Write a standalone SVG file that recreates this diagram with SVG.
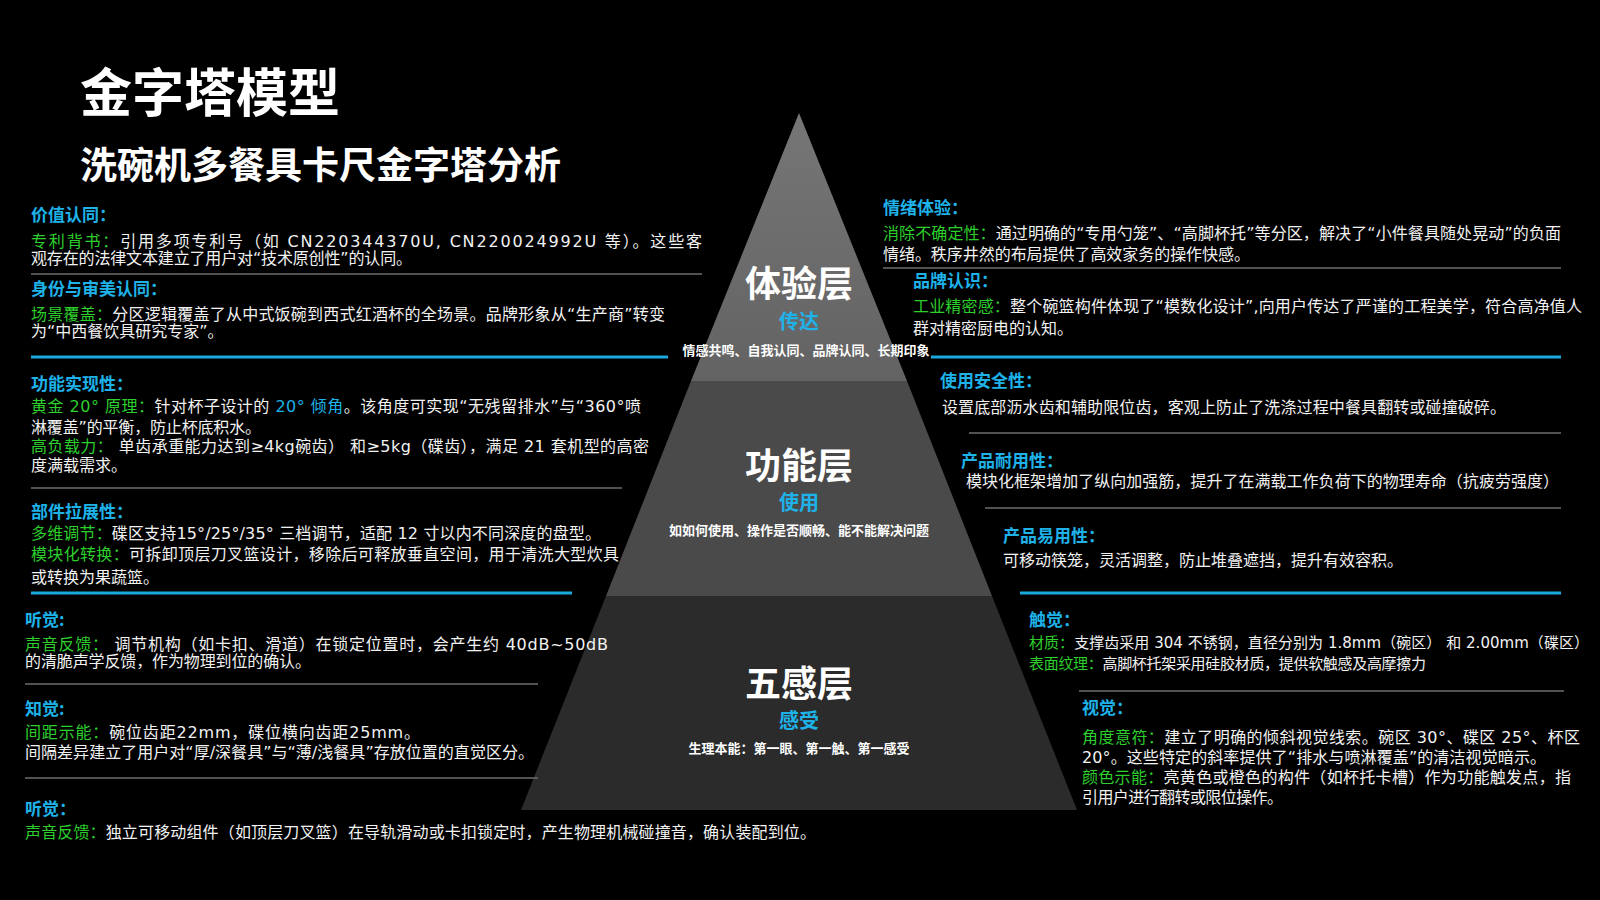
<svg xmlns="http://www.w3.org/2000/svg" width="1600" height="900" viewBox="0 0 1600 900">
<defs>
<style>
.ttl{font-family:"Noto Sans CJK SC",sans-serif;font-weight:700;fill:#fff}
.h{font-family:"Noto Sans CJK SC",sans-serif;font-weight:700;font-size:17px;fill:#1eb2e8}
.t{font-family:"DejaVu Sans","Noto Sans CJK SC",sans-serif;font-size:16px;fill:#f2f2f2}
.s15{font-size:15px}
.g{fill:#2dcf2d}
.c{fill:#1eb2e8}
.sep{stroke:#6e6e6e;stroke-width:1.5;fill:none}
.bar{stroke:#1aa9dc;stroke-width:3;fill:none}
.lay{font-family:"Noto Sans CJK SC",sans-serif;font-weight:700;font-size:36px;fill:#fff;text-anchor:middle}
.sub{font-family:"Noto Sans CJK SC",sans-serif;font-weight:700;font-size:20px;fill:#1eb2e8;text-anchor:middle}
.sm{font-family:"Noto Sans CJK SC",sans-serif;font-weight:700;font-size:13px;fill:#fff;text-anchor:middle}
</style>
<linearGradient id="topg" x1="0" y1="0" x2="0" y2="1">
<stop offset="0" stop-color="#767676"/>
<stop offset="1" stop-color="#636363"/>
</linearGradient>
</defs>
<rect x="0" y="0" width="1600" height="900" fill="#000"/>

<g id="title">
<text class="ttl" x="80" y="112" font-size="52">金字塔模型</text>
<text class="ttl" x="80" y="179" font-size="37">洗碗机多餐具卡尺金字塔分析</text>
</g>

<g id="pyramid">
<g id="tier-experience">
<polygon points="799,113 907,381 691,381" fill="url(#topg)"/>
<text class="lay" x="799" y="297">体验层</text>
<text class="sub" x="799" y="329">传达</text>
<text class="sm" x="806" y="355">情感共鸣、自我认同、品牌认同、长期印象</text>
</g>
<g id="tier-function">
<polygon points="691,381 907,381 992,596 606,596" fill="#4a4a4a"/>
<text class="lay" x="799" y="479">功能层</text>
<text class="sub" x="799" y="510">使用</text>
<text class="sm" x="799" y="535">如如何使用、操作是否顺畅、能不能解决问题</text>
</g>
<g id="tier-senses">
<polygon points="606,596 992,596 1077,810 521,810" fill="#2b2b2b"/>
<text class="lay" x="799" y="697">五感层</text>
<text class="sub" x="799" y="728">感受</text>
<text class="sm" x="799" y="753">生理本能：第一眼、第一触、第一感受</text>
</g>
</g>

<g id="connectors">
<line class="sep" x1="31" y1="274" x2="702" y2="274"/>
<line class="bar" x1="31" y1="357" x2="668" y2="357"/>
<line class="sep" x1="31" y1="488" x2="622" y2="488"/>
<line class="bar" x1="31" y1="593" x2="572" y2="593"/>
<line class="sep" x1="25" y1="684" x2="538" y2="684"/>
<line class="sep" x1="25" y1="778" x2="538" y2="778"/>
<line class="sep" x1="883" y1="268" x2="1561" y2="268"/>
<line class="bar" x1="931" y1="357" x2="1561" y2="357"/>
<line class="sep" x1="969" y1="433" x2="1561" y2="433"/>
<line class="sep" x1="985" y1="508" x2="1561" y2="508"/>
<line class="bar" x1="1020" y1="593" x2="1561" y2="593"/>
<line class="sep" x1="1079" y1="691" x2="1564" y2="691"/>
</g>

<g id="left-experience">
<text class="h" x="31" y="221">价值认同：</text>
<text class="t" x="31" y="247" textLength="671"><tspan class="g">专利背书：</tspan>引用多项专利号（如 CN220344370U, CN220024992U 等）。这些客</text>
<text class="t" x="31" y="264" textLength="381">观存在的法律文本建立了用户对“技术原创性”的认同。</text>
<text class="h" x="31" y="295">身份与审美认同：</text>
<text class="t" x="31" y="320" textLength="634"><tspan class="g">场景覆盖：</tspan>分区逻辑覆盖了从中式饭碗到西式红酒杯的全场景。品牌形象从“生产商”转变</text>
<text class="t" x="31" y="337">为“中西餐饮具研究专家”。</text>
</g>

<g id="left-function">
<text class="h" x="31" y="390">功能实现性：</text>
<text class="t" x="31" y="412" textLength="610"><tspan class="g">黄金 20° 原理：</tspan>针对杯子设计的 <tspan class="c">20° 倾角</tspan>。该角度可实现“无残留排水”与“360°喷</text>
<text class="t" x="31" y="433" textLength="230">淋覆盖”的平衡，防止杯底积水。</text>
<text class="t" x="31" y="452" textLength="618"><tspan class="g">高负载力：</tspan> 单齿承重能力达到≥4kg碗齿） 和≥5kg（碟齿），满足 21 套机型的高密</text>
<text class="t" x="31" y="471">度满载需求。</text>
<text class="h" x="31" y="518">部件拉展性：</text>
<text class="t" x="31" y="539" textLength="570"><tspan class="g">多维调节：</tspan>碟区支持15°/25°/35° 三档调节，适配 12 寸以内不同深度的盘型。</text>
<text class="t" x="31" y="560" textLength="588"><tspan class="g">模块化转换：</tspan>可拆卸顶层刀叉篮设计，移除后可释放垂直空间，用于清洗大型炊具</text>
<text class="t" x="31" y="583">或转换为果蔬篮。</text>
</g>

<g id="left-senses">
<text class="h" x="25" y="626">听觉:</text>
<text class="t" x="25" y="650" textLength="583"><tspan class="g">声音反馈：</tspan> 调节机构（如卡扣、滑道）在锁定位置时，会产生约 40dB~50dB</text>
<text class="t" x="25" y="667" textLength="286">的清脆声学反馈，作为物理到位的确认。</text>
<text class="h" x="25" y="715">知觉:</text>
<text class="t" x="25" y="738" textLength="395"><tspan class="g">间距示能：</tspan>碗位齿距22mm，碟位横向齿距25mm。</text>
<text class="t" x="25" y="758" textLength="509">间隔差异建立了用户对“厚/深餐具”与“薄/浅餐具”存放位置的直觉区分。</text>
<text class="h" x="25" y="815">听觉：</text>
<text class="t" x="25" y="838" textLength="791"><tspan class="g">声音反馈：</tspan>独立可移动组件（如顶层刀叉篮）在导轨滑动或卡扣锁定时，产生物理机械碰撞音，确认装配到位。</text>
</g>

<g id="right-experience">
<text class="h" x="883" y="214">情绪体验：</text>
<text class="t" x="883" y="239" textLength="678"><tspan class="g">消除不确定性：</tspan>通过明确的“专用勺笼”、“高脚杯托”等分区，解决了“小件餐具随处晃动”的负面</text>
<text class="t" x="883" y="260" textLength="367">情绪。秩序井然的布局提供了高效家务的操作快感。</text>
<text class="h" x="913" y="287">品牌认识：</text>
<text class="t" x="913" y="312" textLength="669"><tspan class="g">工业精密感：</tspan>整个碗篮构件体现了“模数化设计”,向用户传达了严谨的工程美学，符合高净值人</text>
<text class="t" x="913" y="334">群对精密厨电的认知。</text>
</g>

<g id="right-function">
<text class="h" x="940" y="387">使用安全性：</text>
<text class="t" x="942" y="413" textLength="564">设置底部沥水齿和辅助限位齿，客观上防止了洗涤过程中餐具翻转或碰撞破碎。</text>
<text class="h" x="961" y="467">产品耐用性：</text>
<text class="t" x="966" y="487" textLength="593">模块化框架增加了纵向加强筋，提升了在满载工作负荷下的物理寿命（抗疲劳强度）</text>
<text class="h" x="1003" y="542">产品易用性：</text>
<text class="t" x="1003" y="566" textLength="400">可移动筷笼，灵活调整，防止堆叠遮挡，提升有效容积。</text>
</g>

<g id="right-senses">
<text class="h" x="1029" y="626">触觉：</text>
<text class="t s15" x="1029" y="648" textLength="560"><tspan class="g">材质：</tspan>支撑齿采用 304 不锈钢，直径分别为 1.8mm（碗区） 和 2.00mm（碟区）</text>
<text class="t s15" x="1029" y="669" textLength="397"><tspan class="g">表面纹理：</tspan>高脚杯托架采用硅胶材质，提供软触感及高摩擦力</text>
<text class="h" x="1082" y="714">视觉：</text>
<text class="t" x="1082" y="743" textLength="498"><tspan class="g">角度意符：</tspan>建立了明确的倾斜视觉线索。碗区 30°、碟区 25°、杯区</text>
<text class="t" x="1082" y="763" textLength="464">20°。这些特定的斜率提供了“排水与喷淋覆盖”的清洁视觉暗示。</text>
<text class="t" x="1082" y="783" textLength="489"><tspan class="g">颜色示能：</tspan>亮黄色或橙色的构件（如杯托卡槽）作为功能触发点，指</text>
<text class="t" x="1082" y="803" textLength="201">引用户进行翻转或限位操作。</text>
</g>
</svg>
